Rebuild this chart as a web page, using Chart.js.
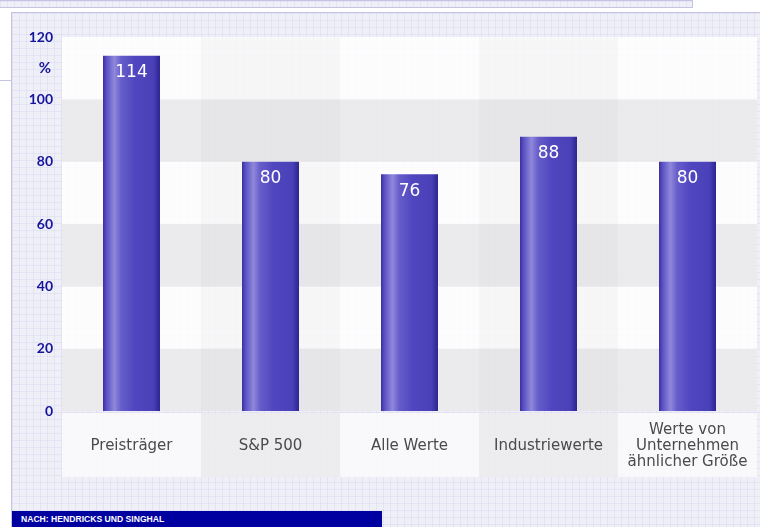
<!DOCTYPE html>
<html>
<head>
<meta charset="utf-8">
<script src="https://cdn.jsdelivr.net/npm/chart.js@4"></script>
<style>
  html, body { margin: 0; padding: 0; background: #fff; }
  #page { position: relative; width: 760px; height: 527px; overflow: hidden; }
  .pattern {
    background-color: #efeff8;
    background-image:
      linear-gradient(rgba(212,212,236,0.4) 1px, transparent 1px),
      linear-gradient(90deg, rgba(212,212,236,0.4) 1px, transparent 1px);
    background-size: 7px 7px;
  }
  #topbar { position: absolute; left: 0; top: 0; width: 692px; height: 6px; border: 1px solid #c4c4e2; border-left: none; }
  #sideline { position: absolute; left: 0; top: 80px; width: 11px; height: 1px; background: #c4c4e2; }
  #frame { position: absolute; left: 11px; top: 12px; width: 748px; height: 515px; border-left: 1px solid #c4c4e2; border-top: 1px solid #c4c4e2; }
  #footer { position: absolute; left: 12px; top: 511px; width: 370px; height: 16px; background: #0000a0;
    color: #fff; font: bold 8.6px "Liberation Sans", Arial, sans-serif; line-height: 17px; padding-left: 9px; box-sizing: border-box; }
  #chart { position: absolute; left: 0; top: 0; }
</style>
</head>
<body>
<div id="page">
  <div id="topbar" class="pattern"></div>
  <div id="sideline"></div>
  <div id="frame" class="pattern"></div>
  <div id="footer">NACH: HENDRICKS UND SINGHAL</div>
  <canvas id="chart" width="760" height="527"></canvas>
</div>
<script>
// chart data
const categories = ['Preisträger', 'S&P 500', 'Alle Werte', 'Industriewerte', ['Werte von', 'Unternehmen', 'ähnlicher Größe']];
const returns = [114, 80, 76, 88, 80];
const yTicks = [0, 20, 40, 60, 80, 100, 120];
const unitLabel = '%';

const barPct = 0.41;

// bar fill: horizontal "cylinder" gradient
function barFill(ctx) {
    const chart = ctx.chart;
    const xs = chart.scales.x;
    if (!xs || ctx.dataIndex === undefined) return '#5048c0';
    const cx = xs.getPixelForValue(ctx.dataIndex);
    const half = (xs.width / categories.length) * barPct / 2;
    if (!isFinite(cx) || !isFinite(half) || half <= 0) return '#5048c0';
    const g = chart.ctx.createLinearGradient(cx - half, 0, cx + half, 0);
    g.addColorStop(0, '#3a2f9c');
    g.addColorStop(0.06, '#5a50c4');
    g.addColorStop(0.2, '#8f88da');
    g.addColorStop(0.32, '#665dca');
    g.addColorStop(0.55, '#5047c0');
    g.addColorStop(0.88, '#4a41b8');
    g.addColorStop(1, '#2c2490');
    return g;
}

// background bands of the plot and label row, value labels
const bands = {
    id: 'bands',
    beforeDraw(chart) {
        const { ctx, chartArea, scales } = chart;
        const xs = scales.x, ys = scales.y;
        const colW = xs.width / categories.length;
        ctx.save();
        // horizontal bands
        for (let i = 0; i < yTicks.length - 1; i++) {
            const top = ys.getPixelForValue(yTicks[i + 1]);
            const bot = ys.getPixelForValue(yTicks[i]);
            ctx.fillStyle = i % 2 === 0 ? 'rgba(234,234,236,0.9)' : 'rgba(255,255,255,0.85)';
            ctx.fillRect(chartArea.left, top, chartArea.width, bot - top);
        }
        // column tint
        categories.forEach((c, i) => {
            if (i % 2 === 1) {
                ctx.fillStyle = 'rgba(0,0,0,0.025)';
                ctx.fillRect(xs.getPixelForValue(i) - colW / 2, chartArea.top, colW, chartArea.height);
            }
        });
        // label row
        categories.forEach((c, i) => {
            ctx.fillStyle = i % 2 === 1 ? 'rgba(236,236,238,0.95)' : 'rgba(250,250,252,0.92)';
            ctx.fillRect(xs.getPixelForValue(i) - colW / 2, chartArea.bottom + 2, colW, 64);
        });
        ctx.restore();
    },
    afterDatasetsDraw(chart) {
        const { ctx, scales } = chart;
        ctx.save();
        ctx.fillStyle = '#ffffff';
        ctx.font = '17px "DejaVu Sans", sans-serif';
        ctx.textAlign = 'center';
        ctx.textBaseline = 'middle';
        chart.getDatasetMeta(0).data.forEach((bar, i) => {
            ctx.fillText(String(returns[i]), bar.x, bar.y + 17);
        });
        // unit label
        ctx.fillStyle = '#14149c';
        ctx.font = 'bold 15px Lato, sans-serif';
        ctx.textAlign = 'right';
        ctx.fillText(unitLabel, 51, scales.y.getPixelForValue(110));
        ctx.restore();
    }
};

new Chart(document.getElementById('chart'), {
    type: 'bar',
    data: {
        labels: categories,
        datasets: [{
            data: returns,
            backgroundColor: barFill,
            borderWidth: 0,
            barPercentage: barPct,
            categoryPercentage: 1
        }]
    },
    options: {
        responsive: false,
        animation: false,
        layout: { padding: { left: 0, right: 3, top: 37, bottom: 0 } },
        plugins: { legend: { display: false }, tooltip: { enabled: false } },
        scales: {
            x: {
                grid: { display: false, drawTicks: false },
                border: { display: false },
                afterFit: s => { s.height = 116; s.paddingLeft = 0; s.paddingRight = 0; },
                ticks: {
                    padding: 19,
                    crossAlign: 'center',
                    color: '#4a4a4a',
                    font: { family: '"DejaVu Sans", sans-serif', size: 15, lineHeight: 1.07 }
                }
            },
            y: {
                min: 0,
                max: 120,
                grid: { display: false, drawTicks: false },
                border: { display: false },
                afterFit: s => { s.width = 62; },
                afterBuildTicks: s => { s.ticks = yTicks.map(v => ({ value: v })); },
                ticks: {
                    padding: 9,
                    color: '#14149c',
                    font: { family: 'Lato, sans-serif', size: 14, weight: 'bold' }
                }
            }
        }
    },
    plugins: [bands]
});
</script>
</body>
</html>
